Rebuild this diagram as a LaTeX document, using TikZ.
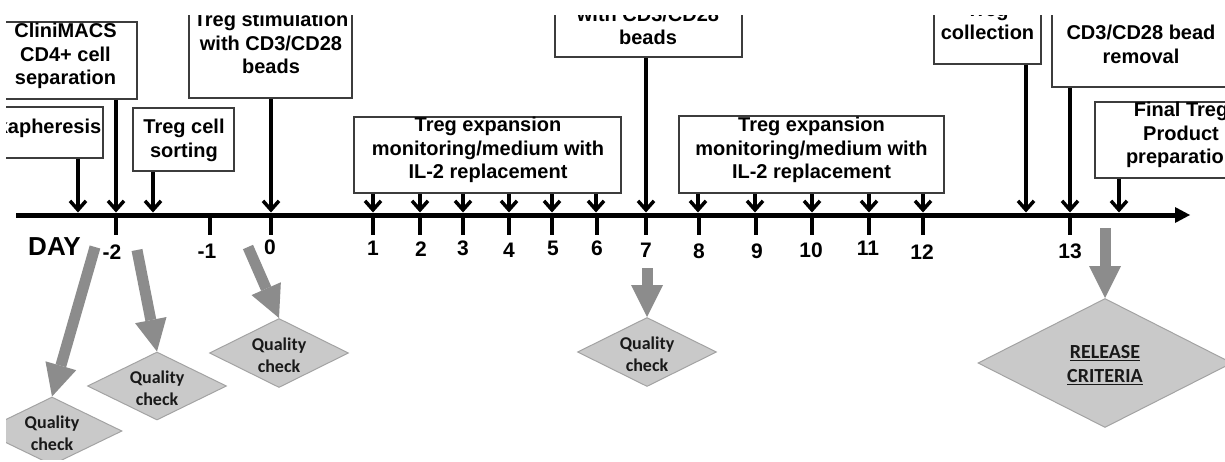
\documentclass[tikz,border=0pt]{standalone}
\usepackage{fontspec}
\setmainfont{Liberation Sans}
\newfontfamily\calfont{Carlito}
\usetikzlibrary{arrows.meta,shapes.geometric}
\definecolor{boxline}{HTML}{3C3C3C}
\definecolor{garrow}{HTML}{8C8C8C}
\definecolor{dfill}{HTML}{C9C9C9}
\definecolor{dline}{HTML}{A3A3A3}
\tikzset{
  stepbox/.style={draw=boxline, line width=1.5pt, inner sep=0pt},
  btxt/.style={font=\bfseries\fontsize{20}{23.5}\selectfont, align=center, inner sep=0pt},
  blk/.style={line width=3.5pt, -{Straight Barb[length=9pt,width=16pt]}},
  tickmark/.style={line width=4pt},
  daylab/.style={font=\bfseries\fontsize{21}{24}\selectfont, inner sep=0pt},
  garr/.style={draw=garrow, line width=11pt, -{Triangle[length=32pt,width=32pt,line width=0pt]}},
  qd/.style={diamond, fill=dfill, draw=dline, line width=1pt, inner sep=0pt},
  qtxt/.style={font=\calfont\bfseries\fontsize{18}{22}\selectfont, align=center, inner sep=0pt, text=black!90},
}
\begin{document}
\begin{tikzpicture}[x=1pt,y=-1pt]
\useasboundingbox[fill=white] (0,0) rectangle (1225,461);
\begin{scope}
\clip (6,15) rectangle (1225,459);

% boxes
\node[stepbox, minimum width=148pt, minimum height=51pt] (leuk) at (29,132.5) {};
\node[btxt, anchor=east] (leukT) at (101.5,128) {Leukapheresis};
\node[stepbox, minimum width=147pt, minimum height=77pt] (clini) at (63.5,60.5) {};
\node[btxt] (cliniT) at (65.5,56) {CliniMACS\\CD4+ cell\\separation};
\node[stepbox, minimum width=101pt, minimum height=63pt] (sort) at (183.5,139.5) {};
\node[btxt] (sortT) at (184,140.5) {Treg cell\\sorting};
\node[stepbox, minimum width=163pt, minimum height=110pt] (stim) at (270.5,43) {};
\node[btxt] (stimT) at (271,43) {Treg stimulation\\with CD3/CD28\\beads};
\node[stepbox, minimum width=267pt, minimum height=76pt] (exp1) at (487.5,155) {};
\node[btxt] (exp1T) at (488,150) {Treg expansion\\monitoring/medium with\\IL-2 replacement};
\node[stepbox, minimum width=265pt, minimum height=77pt] (exp2) at (811.5,154.5) {};
\node[btxt] (exp2T) at (811.5,150) {Treg expansion\\monitoring/medium with\\IL-2 replacement};
\node[stepbox, minimum width=187pt, minimum height=97pt] (dseven) at (648.5,8.5) {};
\node[btxt] (dsevenT) at (648,26) {with CD3/CD28\\beads};
\node[stepbox, minimum width=107pt, minimum height=84pt] (coll) at (987.5,22) {};
\node[btxt] (collT) at (987.5,21) {Treg\\collection};
\node[stepbox, minimum width=188pt, minimum height=107pt] (bead) at (1146,33.5) {};
\node[btxt] (beadT) at (1141,44.5) {CD3/CD28 bead\\removal};
\node[stepbox, minimum width=175pt, minimum height=76pt] (final) at (1182.5,140) {};
\node[btxt] (finalT) at (1181,135) {Final Treg\\Product\\preparation};

% axis
\coordinate (ax0) at (16,215);
\coordinate (ax1) at (1190,215);
\draw[line width=5pt, -{Triangle[length=15pt,width=16pt,line width=0pt]}] (ax0) -- (ax1);

% ticks
\foreach \n/\x in {m2/116, m1/210, d0/271, d1/373, d2/420, d3/463, d4/509, d5/552,
  d6/597, d7/646, d8/699, d9/756, d10/812, d11/869, d12/923, d13/1070} {
  \coordinate (tk\n) at (\x,215);
  \coordinate (tkb\n) at (\x,235);
  \draw[tickmark] (tk\n) -- (tkb\n);
}
\node[daylab] (lm2) at (112,252) {-2};
\node[daylab] (lm1) at (207,251) {-1};
\node[daylab] (ld0) at (270,247) {0};
\node[daylab] (ld1) at (373,248) {1};
\node[daylab] (ld2) at (421,249) {2};
\node[daylab] (ld3) at (463,248) {3};
\node[daylab] (ld4) at (509,250) {4};
\node[daylab] (ld5) at (553,248) {5};
\node[daylab] (ld6) at (597,248) {6};
\node[daylab] (ld7) at (646,250) {7};
\node[daylab] (ld8) at (699,251) {8};
\node[daylab] (ld9) at (757,251) {9};
\node[daylab] (ld10) at (811,250) {10};
\node[daylab] (ld11) at (868,248) {11};
\node[daylab] (ld12) at (922,252) {12};
\node[daylab] (ld13) at (1070,251) {13};
\node[font=\bfseries\fontsize{26}{28}\selectfont, inner sep=0pt] (dayl) at (54.5,247) {DAY};

% black arrows
\coordinate (pL) at (78,212.5);
\coordinate (pC) at (116,212.5);
\coordinate (pS) at (153,212.5);
\coordinate (pT) at (271,212.5);
\coordinate (pD) at (646,212.5);
\coordinate (pO) at (1026,212.5);
\coordinate (pB) at (1070,212.5);
\coordinate (pF) at (1119,212.5);
\draw[blk] (leuk.south -| pL) -- (pL);
\draw[blk] (clini.south -| pC) -- (pC);
\draw[blk] (sort.south -| pS) -- (pS);
\draw[blk] (stim.south -| pT) -- (pT);
\draw[blk] (dseven.south -| pD) -- (pD);
\draw[blk] (coll.south -| pO) -- (pO);
\draw[blk] (bead.south -| pB) -- (pB);
\draw[blk] (final.south -| pF) -- (pF);
\foreach \x [count=\i] in {373,420,463,509,552,596} {
  \coordinate (ea\i) at (\x,212.5);
  \draw[blk] (exp1.south -| ea\i) -- (ea\i);
}
\foreach \x [count=\i] in {698,755,812,869,923} {
  \coordinate (eb\i) at (\x,212.5);
  \draw[blk] (exp2.south -| eb\i) -- (eb\i);
}

% quality diamonds
\node[qd, minimum width=140pt, minimum height=68pt] (qc1) at (52,431) {};
\node[qtxt] (qc1T) at (52,433.5) {Quality\\check};
\node[qd, minimum width=139pt, minimum height=68pt] (qc2) at (157,386) {};
\node[qtxt] (qc2T) at (157,388.5) {Quality\\check};
\node[qd, minimum width=139pt, minimum height=69pt] (qc3) at (279,353) {};
\node[qtxt] (qc3T) at (279,355.5) {Quality\\check};
\node[qd, minimum width=139pt, minimum height=69pt] (qc4) at (647,352) {};
\node[qtxt] (qc4T) at (647,354.5) {Quality\\check};
\node[qd, minimum width=254pt, minimum height=129pt] (rel) at (1105,363) {};
\node[qtxt, font=\calfont\bfseries\fontsize{20}{24}\selectfont] (relT) at (1105,365) {\underline{RELEASE}\\\underline{CRITERIA}};

% gray arrows
\coordinate (g1) at (95,247);
\coordinate (g2) at (137,250);
\coordinate (g3) at (248,247);
\coordinate (g4) at (647,268);
\coordinate (g5) at (1105,228);
\draw[garr] (g1) -- (qc1.north);
\draw[garr] (g2) -- (qc2.north);
\draw[garr] (g3) -- (qc3.north);
\draw[garr] (g4) -- (qc4.north);
\draw[garr] (g5) -- (rel.north);
\end{scope}
\end{tikzpicture}
\end{document}
